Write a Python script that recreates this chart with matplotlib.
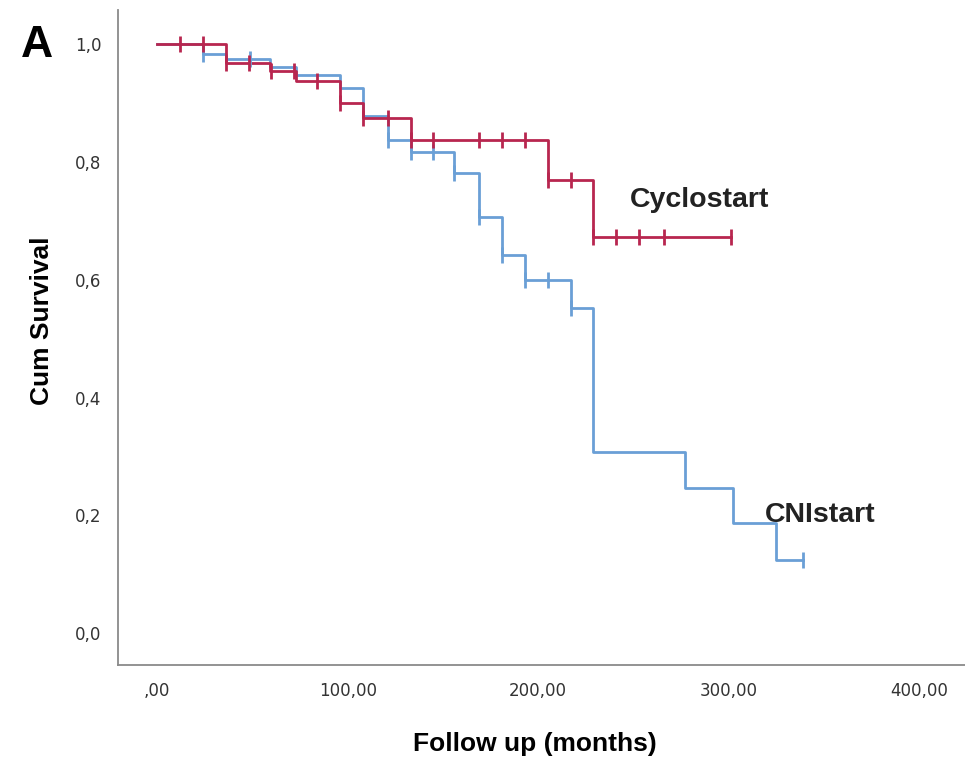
import matplotlib
matplotlib.use('Agg')
import numpy as np
import matplotlib.pyplot as plt

# Kaplan-Meier steps
cyclo_times = [0, 36, 59, 73, 96, 108, 133, 205, 229, 301]
cyclo_surv = [1.0, 0.968, 0.955, 0.937, 0.900, 0.874, 0.837, 0.769, 0.672, 0.672]
cyclo_cens = [12, 24, 36, 48, 60, 72, 84, 96, 108, 121, 133, 145, 169, 181, 193, 205, 217,
              229, 241, 253, 266, 301]

cni_times = [0, 24, 36, 59, 73, 96, 108, 121, 133, 156, 169, 181, 193, 217, 229, 277, 302, 325, 339]
cni_surv = [1.0, 0.983, 0.975, 0.962, 0.947, 0.925, 0.879, 0.837, 0.817, 0.781, 0.706, 0.642,
            0.599, 0.552, 0.307, 0.246, 0.187, 0.124, 0.124]
cni_cens = [24, 49, 121, 133, 145, 156, 169, 181, 193, 205, 217, 339]

x_ticks = [0, 100, 200, 300, 400]
x_labels = [',00', '100,00', '200,00', '300,00', '400,00']
y_ticks = [0.0, 0.2, 0.4, 0.6, 0.8, 1.0]
y_labels = ['0,0', '0,2', '0,4', '0,6', '0,8', '1,0']

red = '#B8264F'
blue = '#6A9FD6'

plt.rcParams['font.family'] = ['Liberation Sans', 'DejaVu Sans']

fig = plt.figure(figsize=(9.65, 7.58), dpi=100)
ax = fig.add_axes([0.1223, 0.1227, 0.8777, 0.864])


def step_value(times, surv, t):
    idx = np.searchsorted(times, t, side='right') - 1
    return surv[max(idx, 0)]


for times, surv, cens, col in [(cni_times, cni_surv, cni_cens, blue),
                               (cyclo_times, cyclo_surv, cyclo_cens, red)]:
    ax.step(times, surv, where='post', color=col, lw=2.0, zorder=3)
    cy = [step_value(times, surv, c) for c in cens]
    ax.plot(cens, cy, linestyle='none', marker='|', markersize=11, mew=2.0, color=col, zorder=4)

ax.text(248, 0.735, 'Cyclostart', fontsize=20.5, fontweight='bold', color='#222222', va='center')
ax.text(319, 0.20, 'CNIstart', fontsize=20.5, fontweight='bold', color='#222222', va='center')

ax.set_xlim(-20.5, 424)
ax.set_ylim(-0.054, 1.058)
ax.set_xticks(x_ticks)
ax.set_xticklabels(x_labels, family=['Liberation Sans Narrow', 'DejaVu Sans'])
ax.set_yticks(y_ticks)
ax.set_yticklabels(y_labels, family=['Liberation Sans Narrow', 'DejaVu Sans'])
ax.tick_params(length=0, labelsize=12, labelcolor='#333333', pad=12)

for side in ['top', 'right']:
    ax.spines[side].set_visible(False)
for side in ['left', 'bottom']:
    ax.spines[side].set_color('#8a8a8a')
    ax.spines[side].set_linewidth(1.3)

ax.set_xlabel('Follow up (months)', fontsize=19, fontweight='bold')
ax.set_ylabel('Cum Survival', fontsize=19, fontweight='bold')
ax.xaxis.set_label_coords(0.492, -0.102)
ax.yaxis.set_label_coords(-0.076, 0.525)

fig.text(0.022, 0.94, 'A', fontsize=32, fontweight='bold', va='center')

fig.savefig('out.png', dpi=100)
